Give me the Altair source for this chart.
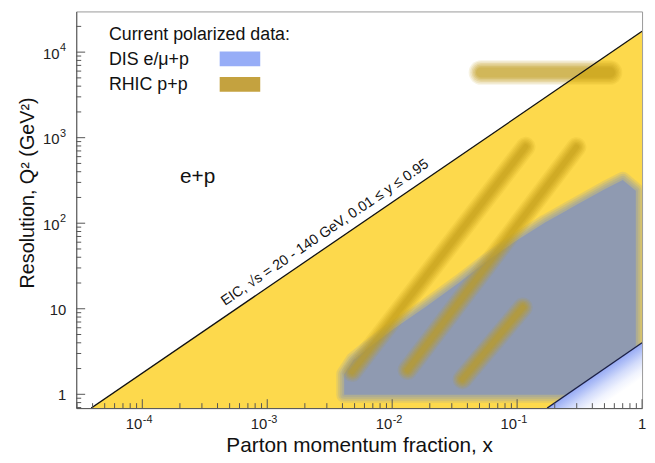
import altair as alt
import pandas as pd

# ---------------- data ----------------
X_DOMAIN = [2.96e-5, 1.0]
Q2_DOMAIN = [0.69, 29900]

# EIC kinematic reach (yellow)
eic_x = [3.9e-5, 0.174, 1.0]
eic_top = [0.69, 3045, 17500]
eic_bottom = [0.69, 0.69, 4.0]

upper_x = [3.9e-5, 1.0]
upper_q2 = [0.69, 17500]
lower_x = [0.174, 1.0]
lower_q2 = [0.69, 4.0]

# DIS e/mu+p region (blue)
dis_x = [0.00413, 0.00488, 0.00653, 0.01031, 0.01884, 0.0344, 0.0564, 0.0975,
         0.1687, 0.247, 0.2917, 0.506, 0.701, 0.891]
dis_top = [1.72, 2.50, 3.53, 5.84, 10.7, 20.3, 35.5, 61.9, 102.5, 140, 160.8, 252, 321, 239]
dis_bottom = [0.987, 0.987, 0.987, 0.987, 0.987, 0.987, 0.987, 0.987, 0.987, 0.987,
              1.167, 2.02, 2.80, 3.56]

# RHIC p+p bands
rhic_band = ["h", "h", "d1", "d1", "d2", "d2", "d3", "d3"]
rhic_x = [0.0514, 0.553, 0.117, 0.00478, 0.2985, 0.01327, 0.111, 0.0365]
rhic_q2 = [5780, 5780, 784, 1.83, 776, 1.92, 10.4, 1.50]

# axis ticks and labels
x_major = [1e-4, 1e-3, 1e-2, 1e-1]
x_major_exp = ["-4", "-3", "-2", "-1"]
x_one = [1.0]
y_plain = [1, 10]
y_plain_labels = ["1", "10"]
y_pow = [100, 1000, 10000]
y_pow_exp = ["2", "3", "4"]
x_minor = [m * 10.0 ** k for k in range(-5, 0) for m in range(2, 10)
           if X_DOMAIN[0] <= m * 10.0 ** k <= X_DOMAIN[1]]
y_minor = [m * 10.0 ** k for k in range(-1, 5) for m in range(2, 10)
           if Q2_DOMAIN[0] <= m * 10.0 ** k <= Q2_DOMAIN[1]]

eic_label = ["EIC, √s = 20 - 140 GeV, 0.01 ≤ y ≤ 0.95"]
eic_label_x = [0.00332]
eic_label_q2 = [58.1]
ep_label = ["e+p"]
ep_x = [2.77e-4]
ep_q2 = [296]

legend_title = "Current polarized data:"
legend_labels = ["DIS e/μ+p", "RHIC p+p"]

# ---------------- styling ----------------
W, H = 572, 401
FONT = "Liberation Sans"
YELLOW = "#fdd94c"
DIS_FILL = "#8f9ab1"
DIS_SWATCH = "#97adf7"
RHIC_CORE = "#c09a17"
RHIC_SWATCH = "#c4a23f"
TICK = "#555555"
LABEL = "#222222"

x_axis = alt.Axis(
    labels=False, ticks=False, tickSize=0, grid=False,
    domainColor=TICK, domainWidth=1,
    title="Parton momentum fraction, x", titleFontSize=21, titleFontWeight="normal",
    titleColor="#111111", titleX=286, titleY=44, titleAlign="center", titleBaseline="alphabetic",
)
y_axis = alt.Axis(
    labels=False, ticks=False, tickSize=0, grid=False,
    domainColor=TICK, domainWidth=1,
    title="Resolution, Q²  (GeV²)", titleFontSize=20, titleFontWeight="normal",
    titleColor="#111111", titleAngle=270, titleX=-49, titleY=183,
    titleAlign="center", titleBaseline="middle",
)


def X(field="x"):
    return alt.X(f"{field}:Q", scale=alt.Scale(type="log", domain=X_DOMAIN, nice=False), axis=x_axis)


def Y(field="q2"):
    return alt.Y(f"{field}:Q", scale=alt.Scale(type="log", domain=Q2_DOMAIN, nice=False), axis=y_axis)


layers = []

# yellow EIC region
eic_df = pd.DataFrame({"x": eic_x, "top": eic_top, "bottom": eic_bottom})
layers.append(alt.Chart(eic_df).mark_area(color=YELLOW, opacity=1).encode(
    x=X("x"), y=Y("top"), y2="bottom:Q"))

# DIS region with soft edges
dis_df = pd.DataFrame({"x": dis_x, "top": dis_top, "bottom": dis_bottom})
for w, a in [(16, 0.2), (12, 0.25), (8, 0.3), (4, 0.35)]:
    layers.append(alt.Chart(dis_df).mark_area(
        fillOpacity=0, stroke=DIS_FILL, strokeWidth=w, strokeOpacity=a,
        strokeJoin="round", clip=True).encode(x=X("x"), y=Y("top"), y2="bottom:Q"))
layers.append(alt.Chart(dis_df).mark_area(color=DIS_FILL, opacity=1, clip=True).encode(
    x=X("x"), y=Y("top"), y2="bottom:Q"))

# blue glow in the lower right corner (below the EIC lower boundary)
corner_df = pd.DataFrame({"x": lower_x, "top": lower_q2, "bottom": [Q2_DOMAIN[0]] * len(lower_x)})
corner_grad = alt.LinearGradient(
    gradient="linear", x1=0, y1=0, x2=1, y2=1,
    stops=[alt.GradientStop(color="#97aaf4", offset=0.5),
           alt.GradientStop(color="#aebef7", offset=0.55),
           alt.GradientStop(color="#d2dbfb", offset=0.62),
           alt.GradientStop(color="#f0f3fe", offset=0.7),
           alt.GradientStop(color="#ffffff", offset=0.77)])
layers.append(alt.Chart(corner_df).mark_area(color=corner_grad, opacity=1, clip=True).encode(
    x=X("x"), y=Y("top"), y2="bottom:Q"))

# RHIC bands (soft)
rhic_df = pd.DataFrame({"band": rhic_band, "x": rhic_x, "q2": rhic_q2})
for sel, base in [("h", 13), ("d", 8)]:
    for dw, a in [(12, 0.12), (9, 0.15), (6, 0.18), (3, 0.2), (0, 0.22), (-3, 0.25)]:
        layers.append(alt.Chart(rhic_df).transform_filter(
            f"indexof(datum.band, '{sel}') == 0").mark_line(
            color=RHIC_CORE, strokeWidth=base + dw, opacity=a, strokeCap="round", clip=True
        ).encode(x=X("x"), y=Y("q2"), detail="band:N"))

# boundary lines
up_df = pd.DataFrame({"x": upper_x, "q2": upper_q2})
lo_df = pd.DataFrame({"x": lower_x, "q2": lower_q2})
layers.append(alt.Chart(up_df).mark_line(color="#111111", strokeWidth=1.3, clip=True).encode(x=X("x"), y=Y("q2")))
layers.append(alt.Chart(lo_df).mark_line(color="#1a1f45", strokeWidth=1.3, clip=True).encode(x=X("x"), y=Y("q2")))

# texts
lab_df = pd.DataFrame({"x": eic_label_x, "q2": eic_label_q2, "t": eic_label})
layers.append(alt.Chart(lab_df).mark_text(
    angle=325.6, fontSize=14.4, font=FONT, color="#111111", align="center",
    baseline="middle", dy=-13).encode(x=X("x"), y=Y("q2"), text="t:N"))
ep_df = pd.DataFrame({"x": ep_x, "q2": ep_q2, "t": ep_label})
layers.append(alt.Chart(ep_df).mark_text(
    fontSize=21, font=FONT, color="#111111", align="center", baseline="alphabetic"
).encode(x=X("x"), y=Y("q2"), text="t:N"))

# axis ticks drawn inward
xmaj_df = pd.DataFrame({"x": x_major + x_one})
xmin_df = pd.DataFrame({"x": x_minor})
ymaj_df = pd.DataFrame({"q2": y_plain + y_pow})
ymin_df = pd.DataFrame({"q2": y_minor})
layers.append(alt.Chart(xmaj_df).mark_rule(color=TICK, strokeWidth=1).encode(
    x=X("x"), y=alt.value(H), y2=alt.value(H - 9)))
layers.append(alt.Chart(xmin_df).mark_rule(color=TICK, strokeWidth=1).encode(
    x=X("x"), y=alt.value(H), y2=alt.value(H - 5)))
layers.append(alt.Chart(ymaj_df).mark_rule(color=TICK, strokeWidth=1).encode(
    y=Y("q2"), x=alt.value(0), x2=alt.value(9)))
layers.append(alt.Chart(ymin_df).mark_rule(color=TICK, strokeWidth=1).encode(
    y=Y("q2"), x=alt.value(0), x2=alt.value(5)))

# tick labels with superscript exponents
xl_df = pd.DataFrame({"x": x_major, "b": ["10"] * len(x_major), "e": x_major_exp})
layers.append(alt.Chart(xl_df).mark_text(
    fontSize=15, font=FONT, color=LABEL, align="right", baseline="alphabetic"
).encode(x=X("x"), y=alt.value(H + 21), text="b:N"))
layers.append(alt.Chart(xl_df).mark_text(
    fontSize=11, font=FONT, color=LABEL, align="left", baseline="alphabetic", dx=0.5
).encode(x=X("x"), y=alt.value(H + 15), text="e:N"))
x1_df = pd.DataFrame({"x": x_one, "b": ["1"]})
layers.append(alt.Chart(x1_df).mark_text(
    fontSize=15, font=FONT, color=LABEL, align="center", baseline="alphabetic"
).encode(x=X("x"), y=alt.value(H + 21), text="b:N"))

yp_df = pd.DataFrame({"q2": y_plain, "b": y_plain_labels})
layers.append(alt.Chart(yp_df).mark_text(
    fontSize=15, font=FONT, color=LABEL, align="right", baseline="middle", dy=1
).encode(y=Y("q2"), x=alt.value(-10), text="b:N"))
yw_df = pd.DataFrame({"q2": y_pow, "b": ["10"] * len(y_pow), "e": y_pow_exp})
layers.append(alt.Chart(yw_df).mark_text(
    fontSize=15, font=FONT, color=LABEL, align="right", baseline="middle", dy=1.5
).encode(y=Y("q2"), x=alt.value(-17), text="b:N"))
layers.append(alt.Chart(yw_df).mark_text(
    fontSize=11, font=FONT, color=LABEL, align="left", baseline="middle", dy=-4
).encode(y=Y("q2"), x=alt.value(-16.5), text="e:N"))

# legend (annotation inside the plot)
leg_title_df = pd.DataFrame({"t": [legend_title]})
layers.append(alt.Chart(leg_title_df).mark_text(
    fontSize=18, font=FONT, color="#111111", align="left", baseline="alphabetic"
).encode(x=alt.value(33), y=alt.value(28.5), text="t:N"))
for i, (lab, col) in enumerate(zip(legend_labels, [DIS_SWATCH, RHIC_SWATCH])):
    d = pd.DataFrame({"t": [lab]})
    layers.append(alt.Chart(d).mark_text(
        fontSize=18, font=FONT, color="#111111", align="left", baseline="alphabetic"
    ).encode(x=alt.value(33), y=alt.value(54 + 25.5 * i), text="t:N"))
    layers.append(alt.Chart(d).mark_rect(color=col, opacity=1).encode(
        x=alt.value(145), x2=alt.value(186), y=alt.value(40.5 + 25.7 * i), y2=alt.value(55.5 + 25.7 * i)))

chart = alt.layer(*layers).properties(
    width=W, height=H,
    padding={"left": 69, "top": 1, "right": 5, "bottom": 50},
    autosize=alt.AutoSizeParams(type="none"),
).configure(font=FONT).configure_view(stroke="#9a9a9a", strokeWidth=1)

chart.save("out.html", embed_options={"renderer": "svg", "actions": False})
